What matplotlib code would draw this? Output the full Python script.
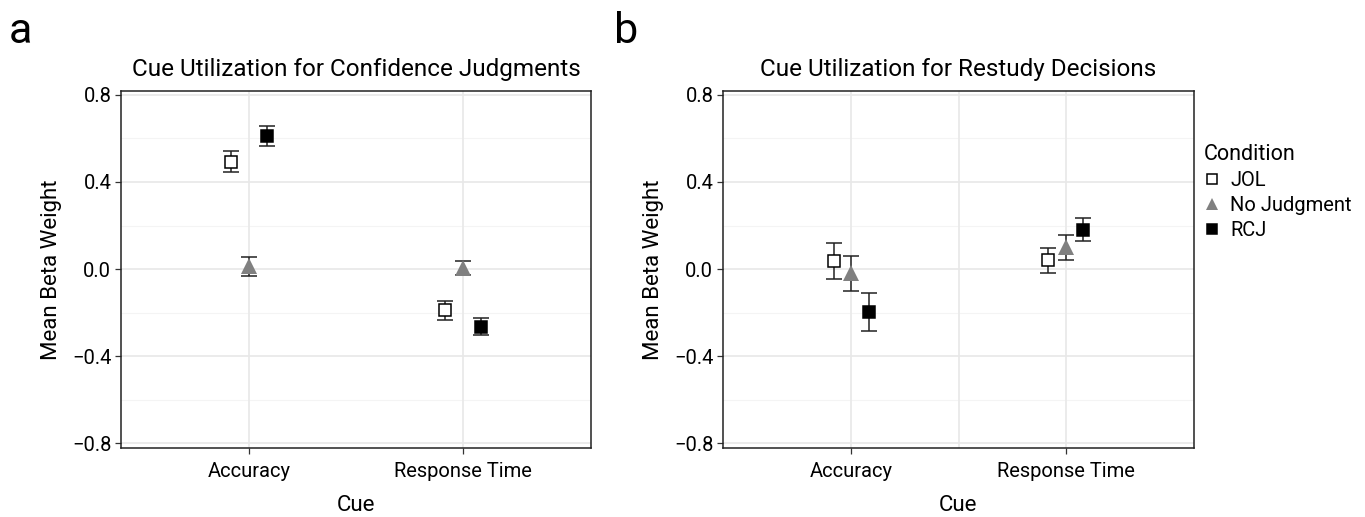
import matplotlib.pyplot as plt
import numpy as np

plt.rcParams['font.family'] = ['Liberation Sans Narrow', 'Roboto', 'DejaVu Sans']

cues = ["Accuracy", "Response Time"]
conditions = ["JOL", "No Judgment", "RCJ"]

# panel a: confidence judgments (mean, half error)
conf_mean = {
    "JOL": [0.494, -0.190],
    "No Judgment": [0.012, 0.005],
    "RCJ": [0.610, -0.264],
}
conf_err = {
    "JOL": [0.049, 0.042],
    "No Judgment": [0.043, 0.033],
    "RCJ": [0.045, 0.039],
}

# panel b: restudy decisions
restudy_mean = {
    "JOL": [0.038, 0.040],
    "No Judgment": [-0.020, 0.100],
    "RCJ": [-0.198, 0.181],
}
restudy_err = {
    "JOL": [0.083, 0.058],
    "No Judgment": [0.081, 0.057],
    "RCJ": [0.088, 0.054],
}

styles = {
    "JOL": dict(marker="s", mfc="white", mec="black", ms=8.5, mew=1.1),
    "No Judgment": dict(marker="^", mfc="#808080", mec="#808080", ms=11, mew=0),
    "RCJ": dict(marker="s", mfc="black", mec="black", ms=8.5, mew=1.1),
}
dodge = [-0.0833, 0.0, 0.0833]


def draw_panel(ax, means, errs, title, mid_line=False):
    x = np.arange(1, len(cues) + 1)
    for yv in [-0.6, -0.2, 0.2, 0.6]:
        ax.axhline(yv, color="#F4F4F4", lw=0.8, zorder=0)
    for yv in [-0.8, -0.4, 0.0, 0.4, 0.8]:
        ax.axhline(yv, color="#E8E8E8", lw=1.2, zorder=0)
    for xv in x:
        ax.axvline(xv, color="#E8E8E8", lw=1.2, zorder=0)
    if mid_line:
        ax.axvline(1.5, color="#E8E8E8", lw=1.2, zorder=0)
    for off, cond in zip(dodge, conditions):
        ax.errorbar(x + off, means[cond], yerr=errs[cond], fmt="none",
                    ecolor="#222222", elinewidth=1.1, capsize=6, capthick=1.1,
                    zorder=2)
        ax.plot(x + off, means[cond], ls="none", zorder=3, **styles[cond])
    ax.set_xlim(0.4, 2.6)
    ax.set_ylim(-0.822, 0.818)
    ax.set_xticks(x)
    ax.set_xticklabels(cues)
    ax.set_yticks([-0.8, -0.4, 0.0, 0.4, 0.8])
    ax.set_yticklabels(["\u22120.8", "\u22120.4", "0.0", "0.4", "0.8"])
    ax.tick_params(labelsize=14.5, length=4, width=0.9, color="#333333", pad=3)
    ax.tick_params(axis="x", pad=6)
    for s in ax.spines.values():
        s.set_color("#222222")
        s.set_linewidth(1.1)
    ax.set_xlabel("Cue", fontsize=16, labelpad=10)
    ax.set_ylabel("Mean Beta Weight", fontsize=16, labelpad=7)
    ax.set_title(title, fontsize=17.5, pad=11)


fig = plt.figure(figsize=(13.65, 5.17), dpi=100)
ax1 = fig.add_axes([121 / 1365, 69 / 517, 470 / 1365, 357 / 517])
ax2 = fig.add_axes([723 / 1365, 69 / 517, 471 / 1365, 357 / 517])

draw_panel(ax1, conf_mean, conf_err, "Cue Utilization for Confidence Judgments")
draw_panel(ax2, restudy_mean, restudy_err, "Cue Utilization for Restudy Decisions",
           mid_line=True)

fig.text(9 / 1365, 1 - 43 / 517, "a", fontsize=31, va="baseline", ha="left")
fig.text(614 / 1365, 1 - 43 / 517, "b", fontsize=31, va="baseline", ha="left")

handles = [plt.Line2D([], [], ls="none", **dict(styles[c], ms=7 if c != "No Judgment" else 9))
           for c in conditions]
leg = fig.legend(handles, conditions, title="Condition", loc="upper left",
                 bbox_to_anchor=(1196 / 1365, 1 - 136 / 517), frameon=False,
                 fontsize=14.5, title_fontsize=15.5, handlelength=0.8,
                 handletextpad=0.5, labelspacing=0.3, borderaxespad=0)
leg._legend_box.align = "left"

fig.savefig("out.png", dpi=100)
